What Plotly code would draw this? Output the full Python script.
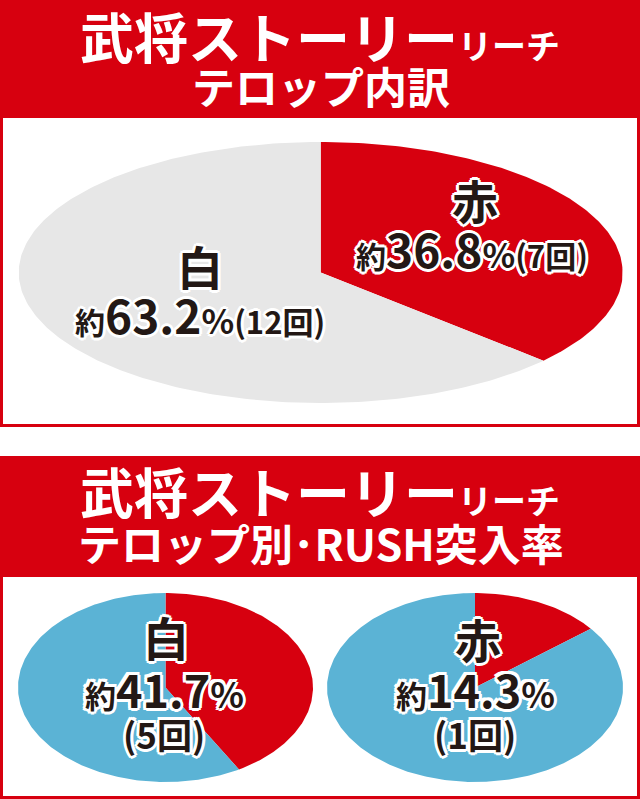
import numpy as np
import plotly.graph_objects as go

# ---- data ----
top_categories = ["赤", "白"]
top_pct = [36.8, 63.2]
top_counts = [7, 12]

rush_categories = ["白", "赤"]
rush_pct = [41.7, 14.3]
rush_counts = [5, 1]

title1_main = "武将ストーリー"
title1_small = "リーチ"
title1_line2 = "テロップ内訳"
title2_line2 = "テロップ別･RUSH突入率"

RED = "#d7000f"
GRAY = "#e7e7e7"
BLUE = "#5bb3d5"
DARK = "#231815"

W, H = 640, 799
FONT = "Noto Sans CJK JP"


def px(x):
    return x / W


def py(y):
    return 1 - y / H


fig = go.Figure()


def slice_poly(f0, f1):
    t = np.linspace(2 * np.pi * f0, 2 * np.pi * f1, max(3, int(400 * (f1 - f0)) + 2))
    xs = np.concatenate([[0], np.sin(t), [0]])
    ys = np.concatenate([[0], np.cos(t), [0]])
    return xs, ys


def add_pie(fracs, colors, xa, ya):
    start = 0.0
    for f, c in zip(fracs, colors):
        xs, ys = slice_poly(start, start + f)
        fig.add_trace(go.Scatter(x=xs, y=ys, mode="lines", fill="toself",
                                 fillcolor=c, line=dict(width=0, color=c),
                                 hoverinfo="skip", showlegend=False,
                                 xaxis=xa, yaxis=ya))
        start += f


add_pie([p / 100 for p in top_pct], [RED, GRAY], "x", "y")
add_pie([rush_pct[0] / 100, 1 - rush_pct[0] / 100], [RED, BLUE], "x2", "y2")
add_pie([rush_pct[1] / 100, 1 - rush_pct[1] / 100], [RED, BLUE], "x3", "y3")

ax = dict(range=[-1, 1], visible=False, fixedrange=True)
fig.update_layout(
    xaxis=dict(domain=[px(18.7), px(622.7)], anchor="y", **ax),
    yaxis=dict(domain=[py(403), py(142)], anchor="x", **ax),
    xaxis2=dict(domain=[px(18), px(313)], anchor="y2", **ax),
    yaxis2=dict(domain=[py(782), py(593)], anchor="x2", **ax),
    xaxis3=dict(domain=[px(327), px(623)], anchor="y3", **ax),
    yaxis3=dict(domain=[py(782), py(593)], anchor="x3", **ax),
)

shapes = []
shapes.append(dict(type="rect", xref="paper", yref="paper", layer="below",
                   x0=px(1.5), x1=px(638.5), y0=py(425.5), y1=py(110),
                   fillcolor="white", line=dict(color=RED, width=3)))
shapes.append(dict(type="rect", xref="paper", yref="paper", layer="below",
                   x0=0, x1=1, y0=py(118), y1=1,
                   fillcolor=RED, line=dict(width=0)))
shapes.append(dict(type="rect", xref="paper", yref="paper", layer="below",
                   x0=px(1.5), x1=px(638.5), y0=py(797.5), y1=py(570),
                   fillcolor="white", line=dict(color=RED, width=3)))
shapes.append(dict(type="rect", xref="paper", yref="paper", layer="below",
                   x0=0, x1=1, y0=py(577), y1=py(456),
                   fillcolor=RED, line=dict(width=0)))
fig.update_layout(shapes=shapes)

ann = []
R = 3
offsets = [(round(R * np.cos(a), 1), round(R * np.sin(a), 1))
           for a in np.linspace(0, 2 * np.pi, 8, endpoint=False)]


def title(text, x, y, size):
    ann.append(dict(text=text, x=px(x), y=py(y), xref="paper", yref="paper",
                    showarrow=False, xanchor="center", yanchor="middle",
                    font=dict(family=FONT, size=size, color="white", weight=700)))


def label(text, x, y, size):
    # white halo drawn as offset copies, then the dark text on top
    base = dict(text=text, x=px(x), y=py(y), xref="paper", yref="paper",
                showarrow=False, xanchor="center", yanchor="middle")
    for dx, dy in offsets:
        ann.append(dict(base, xshift=dx, yshift=dy,
                        font=dict(family=FONT, size=size, color="white", weight=700)))
    ann.append(dict(base, font=dict(family=FONT, size=size, color=DARK, weight=700)))


def s(t, size):
    return f"<span style='font-size:{size}px'>{t}</span>"


title(title1_main + s(title1_small, 34), 320, 35, 54)
title(title1_line2, 321, 85, 43)
title(title1_main + s(title1_small, 34), 320, 490, 54)
title(title2_line2, 321, 542, 43)

# top labels
label(top_categories[0], 475, 199, 46)
label(s("約", 30) + f"{top_pct[0]}" + s("%", 34) + s(f"({top_counts[0]}回)", 31), 472, 248, 46)
label(top_categories[1], 200, 265, 46)
label(s("約", 30) + f"{top_pct[1]}" + s("%", 34) + s(f"({top_counts[1]}回)", 31), 200, 314, 46)

# bottom labels
label(rush_categories[0], 166, 636, 46)
label(s("約", 31) + f"{rush_pct[0]}" + s("%", 35), 164, 688, 45)
label(f"({rush_counts[0]}回)", 164, 733, 35)
label(rush_categories[1], 478, 638, 46)
label(s("約", 31) + f"{rush_pct[1]}" + s("%", 35), 475, 688, 45)
label(f"({rush_counts[1]}回)", 475, 733, 35)

fig.update_layout(annotations=ann, width=W, height=H,
                  margin=dict(l=0, r=0, t=0, b=0),
                  paper_bgcolor="white", plot_bgcolor="rgba(0,0,0,0)")

fig.write_html("out.html", config=dict(displayModeBar=False, staticPlot=True),
               post_script="document.body.style.margin='0';document.body.style.padding='0';document.body.style.overflow='hidden';")
